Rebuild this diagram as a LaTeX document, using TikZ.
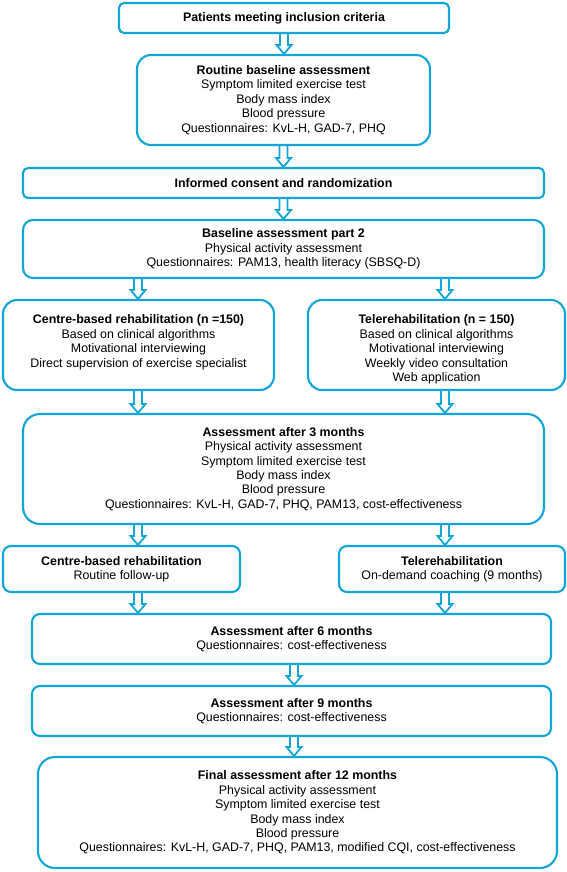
\documentclass[tikz,border=0pt]{standalone}
\usepackage{fontspec}
\setmainfont{Liberation Sans}
\usetikzlibrary{calc}
\definecolor{cb}{RGB}{18,165,215}
\tikzset{
  bx/.style={draw=cb, line width=2.1pt, fill=white, rounded corners=#1, inner sep=0pt,
    align=center, font=\fontsize{12.4}{14.4}\selectfont},
  arw/.style={draw=cb, line width=1.8pt, line join=miter},
}
\newcommand{\harrow}[2]{%
  \draw[arw] let \p1=(#1), \p2=(#2) in
    (\x1-4pt,\y1) -- (\x1-4pt,\y2+9pt) -- (\x1-7.5pt,\y2+9pt) -- (\x1,\y2)
    -- (\x1+7.5pt,\y2+9pt) -- (\x1+4pt,\y2+9pt) -- (\x1+4pt,\y1);}
\begin{document}
\begin{tikzpicture}[x=1pt,y=-1pt]
\useasboundingbox (0,0) rectangle (567,872);
\fill[white] (0,0) rectangle (567,872);
\coordinate (cl) at (138,0);
\coordinate (cr) at (445,0);
\coordinate (cm) at (294,0);

\node[bx=5pt, minimum width=330pt, minimum height=30pt] (b1) at (284,18)
  {\textbf{Patients meeting inclusion criteria}};
\node[bx=14pt, minimum width=293pt, minimum height=90pt] (b2) at (283.5,100)
  {\textbf{Routine baseline assessment}\\Symptom limited exercise test\\Body mass index\\Blood pressure\\Questionnaires: KvL-H, GAD-7, PHQ};
\node[bx=5pt, minimum width=521pt, minimum height=30pt] (b3) at (283.5,183)
  {\textbf{Informed consent and randomization}};
\node[bx=10pt, minimum width=521pt, minimum height=58pt] (b4) at (283.5,249)
  {\textbf{Baseline assessment part 2}\\Physical activity assessment\\Questionnaires: PAM13, health literacy (SBSQ-D)};
\node[bx=14pt, minimum width=271pt, minimum height=90pt] (b5) at (138.5,345)
  {\parbox[c][60pt][t]{265pt}{\centering\textbf{Centre-based rehabilitation (n =150)}\\Based on clinical algorithms\\Motivational interviewing\\Direct supervision of exercise specialist}};
\node[bx=14pt, minimum width=257pt, minimum height=90pt] (b6) at (436.5,345)
  {\parbox[c][60pt][t]{250pt}{\centering\textbf{Telerehabilitation (n = 150)}\\Based on clinical algorithms\\Motivational interviewing\\Weekly video consultation\\Web application}};
\node[bx=17pt, minimum width=521pt, minimum height=110pt] (b7) at (283.5,469)
  {\textbf{Assessment after 3 months}\\Physical activity assessment\\Symptom limited exercise test\\Body mass index\\Blood pressure\\Questionnaires: KvL-H, GAD-7, PHQ, PAM13, cost-effectiveness};
\node[bx=8pt, minimum width=237pt, minimum height=46pt] (b8) at (121.5,569)
  {\textbf{Centre-based rehabilitation}\\Routine follow-up};
\node[bx=8pt, minimum width=226pt, minimum height=46pt] (b9) at (452,569)
  {\textbf{Telerehabilitation}\\On-demand coaching (9 months)};
\node[bx=8pt, minimum width=519pt, minimum height=50pt] (b10) at (291.5,639)
  {\textbf{Assessment after 6 months}\\Questionnaires: cost-effectiveness};
\node[bx=8pt, minimum width=519pt, minimum height=50pt] (b11) at (291.5,711)
  {\textbf{Assessment after 9 months}\\Questionnaires: cost-effectiveness};
\node[bx=17pt, minimum width=519pt, minimum height=111pt] (b12) at (297.5,812.5)
  {\textbf{Final assessment after 12 months}\\Physical activity assessment\\Symptom limited exercise test\\Body mass index\\Blood pressure\\Questionnaires: KvL-H, GAD-7, PHQ, PAM13, modified CQI, cost-effectiveness};

\harrow{b1.south}{b2.north -| b1.south}
\harrow{b2.south}{b3.north -| b2.south}
\harrow{b3.south}{b4.north -| b3.south}
\harrow{b4.south -| cl}{b5.north -| cl}
\harrow{b4.south -| cr}{b6.north -| cr}
\harrow{b5.south -| cl}{b7.north -| cl}
\harrow{b6.south -| cr}{b7.north -| cr}
\harrow{b7.south -| cl}{b8.north -| cl}
\harrow{b7.south -| cr}{b9.north -| cr}
\harrow{b8.south -| cl}{b10.north -| cl}
\harrow{b9.south -| cr}{b10.north -| cr}
\harrow{b10.south -| cm}{b11.north -| cm}
\harrow{b11.south -| cm}{b12.north -| cm}
\end{tikzpicture}
\end{document}
